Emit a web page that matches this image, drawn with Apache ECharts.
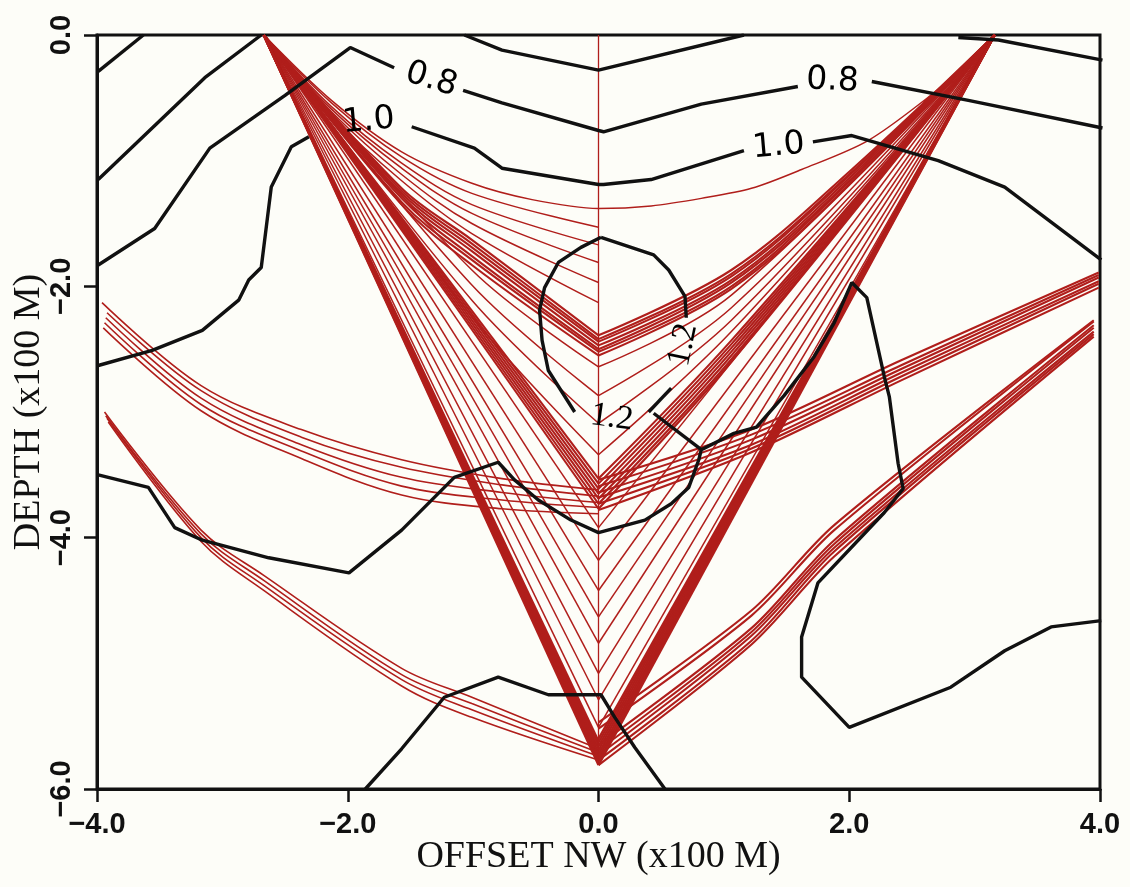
<!DOCTYPE html>
<html>
<head>
<meta charset="utf-8">
<script src="https://cdn.jsdelivr.net/npm/echarts@6/dist/echarts.min.js"></script>
<style>
html,body{margin:0;padding:0;background:#fdfdf8;}
#chart{width:1130px;height:887px;}
</style>
</head>
<body>
<div id="chart"></div>
<script>
// ---------- axis ticks ----------
const xTickValues = [-4, -2, 0, 2, 4];
const xTickLabels = ['\u22124.0', '\u22122.0', '0.0', '2.0', '4.0'];
const yTickValues = [-6, -4, -2, 0];
const yTickLabels = ['\u22126.0', '\u22124.0', '\u22122.0', '0.0'];

// ---------- velocity contours (x100 m) ----------
const contour04 = [[-3.99,-0.29],[-3.63,0]];
const contour06a = [[-3.99,-1.15],[-3.14,-0.34],[-2.69,0]];
const contour06b = [[-1.07,0],[-0.77,-0.12],[0,-0.28],[1.16,0]];
const contour06c = [[2.87,-0.02],[3.19,-0.04],[4.02,-0.20]];
const contour08a = [[-3.99,-1.83],[-3.54,-1.54],[-3.10,-0.90],[-2.50,-0.48],[-1.98,-0.10],[-1.63,-0.26]];
const contour08b = [[-1.08,-0.44],[-0.77,-0.54],[0,-0.76],[0.04,-0.77],[0.82,-0.55],[1.59,-0.41]];
const contour08c = [[2.18,-0.37],[2.95,-0.52],[4.02,-0.74]];
const contour10a = [[-3.99,-2.63],[-3.56,-2.51],[-3.16,-2.35],[-2.87,-2.11],[-2.79,-1.95],[-2.69,-1.85],[-2.61,-1.21],[-2.45,-0.89],[-2.31,-0.81]];
const contour10b = [[-1.49,-0.73],[-0.99,-0.90],[-0.77,-1.06],[0,-1.19],[0.04,-1.19],[0.42,-1.15],[1.16,-0.92]];
const contour10c = [[1.71,-0.85],[2.02,-0.80],[2.71,-1.00],[3.24,-1.21],[4.01,-1.79]];
const contour12a = [[0.02,-1.61],[0.44,-1.75],[0.56,-1.87],[0.69,-2.08],[0.70,-2.25]];
const contour12b = [[0.58,-2.81],[0.40,-3.00]];
const contour12c = [[-0.19,-3.00],[-0.40,-2.67],[-0.45,-2.43],[-0.47,-2.19],[-0.43,-2.01],[-0.32,-1.81],[-0.14,-1.69],[0.02,-1.61]];
const contour12stub = [[0.44,-3.01],[0.82,-3.30]];
const contour11 = [[-3.99,-3.50],[-3.59,-3.60],[-3.38,-3.92],[-3.16,-4.02],[-2.63,-4.16],[-1.99,-4.28],[-1.57,-3.94],[-1.15,-3.52],[-0.80,-3.40],[-0.67,-3.54],[-0.48,-3.70],[-0.22,-3.86],[0,-3.96],[0.37,-3.86],[0.58,-3.73],[0.72,-3.60],[0.80,-3.38],[0.82,-3.30],[1.08,-3.17],[1.26,-3.12],[1.48,-2.87],[1.72,-2.56],[1.88,-2.29],[2.02,-1.97],[2.14,-2.09],[2.28,-2.72],[2.32,-2.88],[2.39,-3.41],[2.43,-3.61],[2.28,-3.80],[1.75,-4.36],[1.62,-4.79],[1.62,-5.11],[2.00,-5.51],[2.81,-5.19],[3.24,-4.90],[3.61,-4.71],[4.01,-4.66]];
const contourBottom = [[-1.86,-6.0],[-1.57,-5.68],[-1.23,-5.27],[-0.80,-5.11],[-0.40,-5.25],[0.02,-5.25],[0.13,-5.43],[0.29,-5.67],[0.53,-6.0]];

// contour labels
const contourLabelText = ['0.8', '0.8', '1.0', '1.0', '1.2', '1.2'];
const contourLabelX = [-1.33, 1.87, -1.83, 1.44, 0.11, 0.68];
const contourLabelY = [-0.36, -0.37, -0.69, -0.89, -3.05, -2.47];
const contourLabelAngle = [-17, -3, 5, 5, -8, 78];

// ---------- ray paths ----------
const sourceLeft = [-2.67, 0];
const sourceRight = [3.16, 0];
const wellLine = [[0, 0], [0, -5.81]];

const arcRay = [[-2.67,0],[-2.13,-0.52],[-1.57,-0.93],[-1.01,-1.18],[-0.53,-1.31],[0,-1.38],[0.42,-1.36],[0.82,-1.30],[1.22,-1.22],[1.62,-1.07],[2.15,-0.84],[2.65,-0.48],[2.92,-0.25],[3.16,0]];

const leftShallowRays = [
  [[-2.67,0],[-2.13,-0.54],[-1.57,-0.97],[-1.01,-1.26],[0,-1.53]],
  [[-2.67,0],[-2.13,-0.57],[-1.57,-1.02],[-1.01,-1.35],[0,-1.67]],
  [[-2.67,0],[-2.13,-0.59],[-1.57,-1.06],[-1.01,-1.42],[0,-1.81]],
  [[-2.67,0],[-2.13,-0.61],[-1.57,-1.11],[-1.01,-1.50],[0,-1.97]],
  [[-2.67,0],[-2.13,-0.64],[-1.57,-1.16],[-1.01,-1.58],[0,-2.13]]
];
const leftBand1Rays = [
  [[-2.67,0],[-1.57,-1.22],[-1.01,-1.63],[0,-2.39]],
  [[-2.67,0],[-1.57,-1.24],[-1.01,-1.66],[0,-2.42]],
  [[-2.67,0],[-1.57,-1.26],[-1.01,-1.69],[0,-2.44]],
  [[-2.67,0],[-1.57,-1.28],[-1.01,-1.72],[0,-2.47]],
  [[-2.67,0],[-1.57,-1.30],[-1.01,-1.76],[0,-2.50]],
  [[-2.67,0],[-1.57,-1.33],[-1.01,-1.79],[0,-2.52]],
  [[-2.67,0],[-1.57,-1.35],[-1.01,-1.83],[0,-2.55]]
];
const leftMidRays = [
  [[-2.67,0],[-1.01,-1.87],[0,-2.64]],
  [[-2.67,0],[-1.01,-1.99],[0,-2.87]],
  [[-2.67,0],[-1.01,-2.11],[0,-3.09]],
  [[-2.67,0],[-1.01,-2.24],[0,-3.34]]
];
const leftBand2Tips = [-3.53,-3.57,-3.61,-3.65,-3.69,-3.73,-3.77];
const deepTips = [-3.92,-4.18,-4.42,-4.63,-4.84,-5.08,-5.29,-5.51];
const leftBand3Tips = [-5.62,-5.65,-5.68,-5.71,-5.74,-5.76,-5.79,-5.81];

const rightBand1Rays = [
  [[3.16,0],[2.02,-1.07],[1.06,-1.87],[0,-2.39]],
  [[3.16,0],[2.02,-1.09],[1.06,-1.90],[0,-2.42]],
  [[3.16,0],[2.02,-1.10],[1.06,-1.92],[0,-2.44]],
  [[3.16,0],[2.02,-1.12],[1.06,-1.95],[0,-2.47]],
  [[3.16,0],[2.02,-1.14],[1.06,-1.97],[0,-2.50]],
  [[3.16,0],[2.02,-1.15],[1.06,-2.00],[0,-2.52]],
  [[3.16,0],[2.02,-1.17],[1.06,-2.02],[0,-2.55]]
];
const rightMidRays = [
  [[3.16,0],[1.06,-2.07],[0,-2.64]],
  [[3.16,0],[1.06,-2.17],[0,-2.87]],
  [[3.16,0],[1.06,-2.27],[0,-3.09]],
  [[3.16,0],[1.06,-2.36],[0,-3.34]]
];
const rightBand2Rays = [
  [[3.16,0],[1.06,-2.43],[0,-3.53]],
  [[3.16,0],[1.06,-2.46],[0,-3.57]],
  [[3.16,0],[1.06,-2.49],[0,-3.61]],
  [[3.16,0],[1.06,-2.52],[0,-3.65]],
  [[3.16,0],[1.06,-2.55],[0,-3.69]],
  [[3.16,0],[1.06,-2.58],[0,-3.73]],
  [[3.16,0],[1.06,-2.60],[0,-3.77]]
];
const rightBand3Tips = [-5.60,-5.63,-5.66,-5.69,-5.72,-5.75,-5.78,-5.81];

// rays entering from the left edge
const leftEdgeBand1 = [
  [[-3.96,-2.13],[-3.17,-2.79],[-2.37,-3.14],[-1.57,-3.38],[-0.77,-3.53],[0,-3.62]],
  [[-3.92,-2.21],[-3.17,-2.83],[-2.37,-3.20],[-1.57,-3.44],[-0.77,-3.58],[0,-3.67]],
  [[-3.93,-2.25],[-3.17,-2.89],[-2.37,-3.26],[-1.57,-3.52],[-0.77,-3.64],[0,-3.72]],
  [[-3.94,-2.29],[-3.17,-2.94],[-2.37,-3.31],[-1.57,-3.59],[-0.77,-3.70],[0,-3.76]],
  [[-3.95,-2.33],[-3.17,-2.99],[-2.37,-3.37],[-1.57,-3.66],[-0.77,-3.77],[0,-3.81]]
];
const leftEdgeBand2 = [
  [[-3.94,-3.00],[-3.17,-3.94],[-2.67,-4.30],[-1.57,-5.04],[-1.01,-5.27],[0,-5.68]],
  [[-3.93,-3.03],[-3.17,-3.97],[-2.67,-4.34],[-1.57,-5.09],[-1.01,-5.32],[0,-5.71]],
  [[-3.92,-3.05],[-3.17,-4.00],[-2.67,-4.38],[-1.57,-5.13],[-1.01,-5.37],[0,-5.74]],
  [[-3.91,-3.08],[-3.17,-4.03],[-2.67,-4.42],[-1.57,-5.18],[-1.01,-5.43],[0,-5.77]]
];
// rays entering from the right edge
const rightEdgeBand1 = [
  [[3.99,-1.89],[2.41,-2.59],[1.22,-3.14],[0,-3.54]],
  [[3.99,-1.91],[2.41,-2.63],[1.22,-3.18],[0,-3.59]],
  [[3.99,-1.93],[2.41,-2.66],[1.22,-3.22],[0,-3.64]],
  [[3.99,-1.96],[2.41,-2.69],[1.22,-3.26],[0,-3.68]],
  [[3.99,-1.98],[2.41,-2.72],[1.22,-3.29],[0,-3.73]],
  [[3.99,-2.01],[2.41,-2.75],[1.22,-3.32],[0,-3.78]]
];
const rightEdgeBand2 = [
  [[3.95,-2.27],[1.88,-3.90],[1.22,-4.58],[0,-5.47]],
  [[3.95,-2.28],[1.88,-3.94],[1.22,-4.62],[0,-5.52]],
  [[3.95,-2.31],[1.88,-4.02],[1.22,-4.72],[0,-5.65]],
  [[3.95,-2.33],[1.88,-4.05],[1.22,-4.75],[0,-5.69]],
  [[3.95,-2.36],[1.88,-4.08],[1.22,-4.78],[0,-5.73]],
  [[3.95,-2.38],[1.88,-4.11],[1.22,-4.82],[0,-5.77]],
  [[3.95,-2.40],[1.88,-4.15],[1.22,-4.85],[0,-5.81]]
];

// ---------- build series ----------
const RED = '#b01e1b';
const BLACK = '#111111';
const series = [];
function addLine(points, color, width, smooth, z) {
  series.push({
    type: 'line', data: points, showSymbol: false, symbol: 'none',
    smooth: smooth, silent: true, animation: false, z: z,
    lineStyle: { color: color, width: width }
  });
}
// rays
addLine(wellLine, RED, 1.3, false, 2);
addLine(arcRay, RED, 1.5, 0.3, 2);
leftShallowRays.forEach(r => addLine(r, RED, 1.5, 0.35, 2));
leftBand1Rays.forEach(r => addLine(r, RED, 2.1, 0.35, 2));
leftMidRays.forEach(r => addLine(r, RED, 1.5, 0.35, 2));
leftBand2Tips.forEach(t => addLine([sourceLeft, [0, t]], RED, 2.1, false, 2));
deepTips.forEach(t => addLine([sourceLeft, [0, t]], RED, 1.5, false, 2));
leftBand3Tips.forEach(t => addLine([sourceLeft, [0, t]], RED, 2.4, false, 2));
rightBand1Rays.forEach(r => addLine(r, RED, 2.1, 0.35, 2));
rightMidRays.forEach(r => addLine(r, RED, 1.5, 0.35, 2));
rightBand2Rays.forEach(r => addLine(r, RED, 2.1, 0.35, 2));
deepTips.forEach(t => addLine([sourceRight, [0, t]], RED, 1.5, false, 2));
rightBand3Tips.forEach(t => addLine([sourceRight, [0, t]], RED, 2.4, false, 2));
leftEdgeBand1.forEach(r => addLine(r, RED, 1.6, 0.35, 2));
leftEdgeBand2.forEach(r => addLine(r, RED, 1.6, 0.35, 2));
rightEdgeBand1.forEach(r => addLine(r, RED, 2.1, 0.3, 2));
rightEdgeBand2.forEach(r => addLine(r, RED, 2.1, 0.3, 2));
// contours
[contour04, contour06a, contour06b, contour06c, contour08a, contour08b, contour08c,
 contour10a, contour10b, contour10c, contour12a, contour12b, contour12c, contour12stub,
 contour11, contourBottom].forEach(c => addLine(c, BLACK, 3.4, false, 3));

// contour labels
series.push({
  type: 'scatter', symbolSize: 1, silent: true, animation: false, z: 4,
  itemStyle: { color: 'rgba(0,0,0,0)' },
  data: contourLabelText.map((t, i) => ({
    value: [contourLabelX[i], contourLabelY[i]],
    label: {
      show: true, position: [0, 0], align: 'center', verticalAlign: 'middle',
      formatter: t, rotate: contourLabelAngle[i],
      fontFamily: i >= 4 ? 'Liberation Serif' : 'DejaVu Sans',
      fontSize: i >= 4 ? 34 : 33, color: '#000000',
      textBorderWidth: 0, textShadowBlur: 0, opacity: 1
    }
  }))
});

const chart = echarts.init(document.getElementById('chart'), null, { renderer: 'canvas' });
chart.setOption({
  backgroundColor: '#fdfdf8',
  animation: false,
  grid: { left: 97, right: 30, top: 35, bottom: 98, containLabel: false, outerBoundsMode: 'none',
          show: true, borderColor: BLACK, borderWidth: 3, backgroundColor: 'transparent' },
  xAxis: {
    type: 'value', min: -4, max: 4, interval: 2,
    axisLine: { show: true, onZero: false, lineStyle: { color: BLACK, width: 3 } },
    axisTick: { show: true, length: 13, lineStyle: { color: BLACK, width: 2.5 } },
    splitLine: { show: false },
    axisLabel: {
      margin: 21, color: BLACK, fontFamily: 'Liberation Sans', fontWeight: 'bold', fontSize: 29,
      formatter: v => { const i = xTickValues.indexOf(v); return i >= 0 ? xTickLabels[i] : ''; }
    },
    name: 'OFFSET NW (x100 M)', nameLocation: 'middle', nameGap: 49, nameMoveOverlap: false,
    nameTextStyle: { fontFamily: 'Liberation Serif', fontSize: 38, color: BLACK }
  },
  yAxis: {
    type: 'value', min: -6, max: 0, interval: 2,
    axisLine: { show: true, onZero: false, lineStyle: { color: BLACK, width: 3 } },
    axisTick: { show: true, length: 13, lineStyle: { color: BLACK, width: 2.5 } },
    splitLine: { show: false },
    axisLabel: {
      margin: 21, rotate: 90, color: BLACK, fontFamily: 'Liberation Sans', fontWeight: 'bold', fontSize: 29,
      formatter: v => { const i = yTickValues.indexOf(v); return i >= 0 ? yTickLabels[i] : ''; }
    },
    name: 'DEPTH (x100 M)', nameLocation: 'middle', nameGap: 49, nameRotate: 90, nameMoveOverlap: false,
    nameTextStyle: { fontFamily: 'Liberation Serif', fontSize: 38, color: BLACK }
  },
  series: series
});
</script>
</body>
</html>
